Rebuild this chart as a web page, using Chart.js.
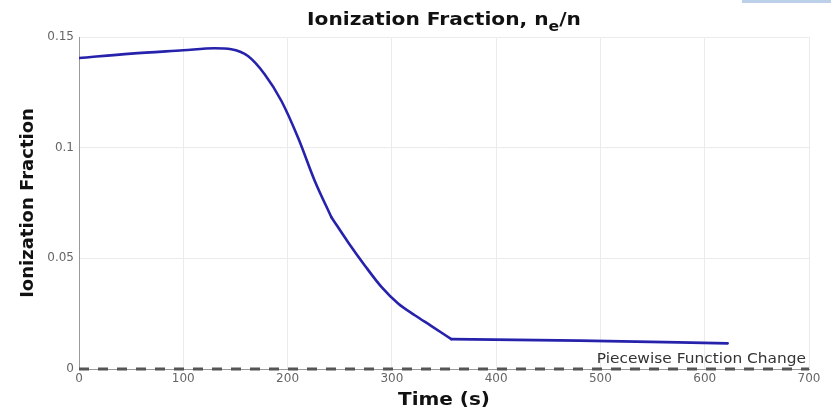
<!DOCTYPE html>
<html>
<head>
<meta charset="utf-8">
<script src="https://cdn.jsdelivr.net/npm/chart.js@4/dist/chart.umd.min.js"></script>
<style>
  html, body { margin: 0; padding: 0; background: #ffffff; }
  #wrap { width: 831px; height: 410px; position: relative; }
</style>
</head>
<body>
<div id="wrap"><canvas id="c" width="831" height="410"></canvas></div>
<script>
// ---- Data ----
const timeSeconds = [0, 50, 100, 130, 146, 162, 178, 194, 210, 226, 242, 258, 274, 290, 306, 322, 338, 357, 480, 622];
const ionizationFraction = [0.1405, 0.1425, 0.1440, 0.1449, 0.1445, 0.1414, 0.1332, 0.1212, 0.1046, 0.0851, 0.0686, 0.0573, 0.0468, 0.0371, 0.0296, 0.0243, 0.0194, 0.0135, 0.0128, 0.0116];
// times where the curve has a visible corner (piecewise joins)
const cornerTimes = [242, 357];
const changeLineTime = [0, 700];
const changeLineValue = [0, 0];
const xTickValues = [0, 100, 200, 300, 400, 500, 600, 700];
const yTickValues = [0, 0.05, 0.1, 0.15];
const titleMain = "Ionization Fraction, n";
const titleSub = "e";
const titleTail = "/n";
const xAxisTitle = "Time (s)";
const yAxisTitle = "Ionization Fraction";
const changeLabel = "Piecewise Function Change";

const curvePoints = timeSeconds.map((t, i) => ({ x: t, y: ionizationFraction[i] }));
const changePoints = changeLineTime.map((t, i) => ({ x: t, y: changeLineValue[i] }));

// split the curve into pieces at the corners so each piece is smooth and the joins stay sharp
const bounds = [timeSeconds[0], ...cornerTimes, timeSeconds[timeSeconds.length - 1]];
const curvePieces = [];
for (let k = 0; k < bounds.length - 1; k++) {
  curvePieces.push(curvePoints.filter(p => p.x >= bounds[k] && p.x <= bounds[k + 1]));
}

function stretchedText(ctx, text, x, y, sx, align) {
  ctx.save();
  const w = ctx.measureText(text).width * sx;
  let left = x;
  if (align === 'center') left = x - w / 2;
  else if (align === 'right') left = x - w;
  ctx.translate(left, y);
  ctx.scale(sx, 1);
  ctx.textAlign = 'left';
  ctx.fillText(text, 0, 0);
  ctx.restore();
  return w;
}

const decorPlugin = {
  id: 'decor',
  beforeDraw(chart) {
    const ctx = chart.ctx;
    ctx.save();
    ctx.fillStyle = '#ffffff';
    ctx.fillRect(0, 0, chart.width, chart.height);
    ctx.fillStyle = '#bcd0ea';
    ctx.fillRect(742, 0, 89, 3);
    ctx.restore();
  },
  afterDraw(chart) {
    const ctx = chart.ctx;
    const area = chart.chartArea;
    const xs = chart.scales.x, ys = chart.scales.y;
    const cx = (area.left + area.right) / 2;
    ctx.save();
    ctx.fillStyle = '#111111';
    ctx.textBaseline = 'alphabetic';
    const sx = 1.12;
    const fMain = 'bold 18px "DejaVu Sans"';
    const fSub = 'bold 14px "DejaVu Sans"';
    ctx.font = fMain;
    const w1 = ctx.measureText(titleMain).width * sx;
    const w3 = ctx.measureText(titleTail).width * sx;
    ctx.font = fSub;
    const w2 = ctx.measureText(titleSub).width * sx;
    const x0 = cx - (w1 + w2 + w3) / 2;
    const base = 25;
    ctx.font = fMain;
    stretchedText(ctx, titleMain, x0, base, sx, 'left');
    ctx.font = fSub;
    stretchedText(ctx, titleSub, x0 + w1, base + 6, sx, 'left');
    ctx.font = fMain;
    stretchedText(ctx, titleTail, x0 + w1 + w2, base, sx, 'left');
    ctx.font = 'bold 18px "DejaVu Sans"';
    stretchedText(ctx, xAxisTitle, cx, 405, 1.11, 'center');
    ctx.save();
    ctx.translate(28, 203);
    ctx.rotate(-Math.PI / 2);
    ctx.font = 'bold 18px "DejaVu Sans"';
    ctx.textAlign = 'center';
    ctx.textBaseline = 'middle';
    ctx.fillText(yAxisTitle, 0, 0);
    ctx.restore();
    ctx.font = '14px "DejaVu Sans"';
    ctx.fillStyle = '#333333';
    ctx.textBaseline = 'alphabetic';
    stretchedText(ctx, changeLabel, xs.getPixelForValue(changeLineTime[1]) - 3, ys.getPixelForValue(changeLineValue[1]) - 6, 1.1, 'right');
    ctx.restore();
  }
};

const curveDatasets = curvePieces.map(piece => ({
  data: piece,
  borderColor: '#2622ac',
  borderWidth: 2.6,
  borderCapStyle: 'round',
  borderJoinStyle: 'round',
  pointRadius: 0,
  cubicInterpolationMode: 'monotone',
  fill: false,
  order: 1
}));

new Chart(document.getElementById('c'), {
  type: 'line',
  data: {
    datasets: [
      ...curveDatasets,
      {
        data: changePoints,
        borderColor: '#555555',
        borderWidth: 3,
        borderDash: [10, 9],
        pointRadius: 0,
        fill: false,
        clip: false,
        order: 2
      }
    ]
  },
  options: {
    responsive: false,
    animation: false,
    devicePixelRatio: 1,
    layout: { padding: { left: 0, right: 22, top: 37, bottom: 0 } },
    plugins: { legend: { display: false }, tooltip: { enabled: false }, title: { display: false } },
    scales: {
      x: {
        type: 'linear',
        min: 0, max: 700,
        afterBuildTicks(scale) { scale.ticks = xTickValues.map(v => ({ value: v })); },
        afterFit(scale) { scale.height = 41; },
        grid: { color: '#ebebeb', lineWidth: 1, drawTicks: false },
        border: { display: true, color: '#9a9a9a', width: 1 },
        ticks: { color: '#666666', font: { family: 'DejaVu Sans', size: 12 }, padding: 3, maxRotation: 0 }
      },
      y: {
        type: 'linear',
        min: 0, max: 0.15,
        afterBuildTicks(scale) { scale.ticks = yTickValues.map(v => ({ value: v })); },
        afterFit(scale) { scale.width = 79; },
        grid: { color: '#ebebeb', lineWidth: 1, drawTicks: false },
        border: { display: true, color: '#9a9a9a', width: 1 },
        ticks: {
          color: '#666666', font: { family: 'DejaVu Sans', size: 12 }, padding: 5,
          callback: (v) => String(parseFloat(Number(v).toFixed(2)))
        }
      }
    }
  },
  plugins: [decorPlugin]
});
</script>
</body>
</html>
